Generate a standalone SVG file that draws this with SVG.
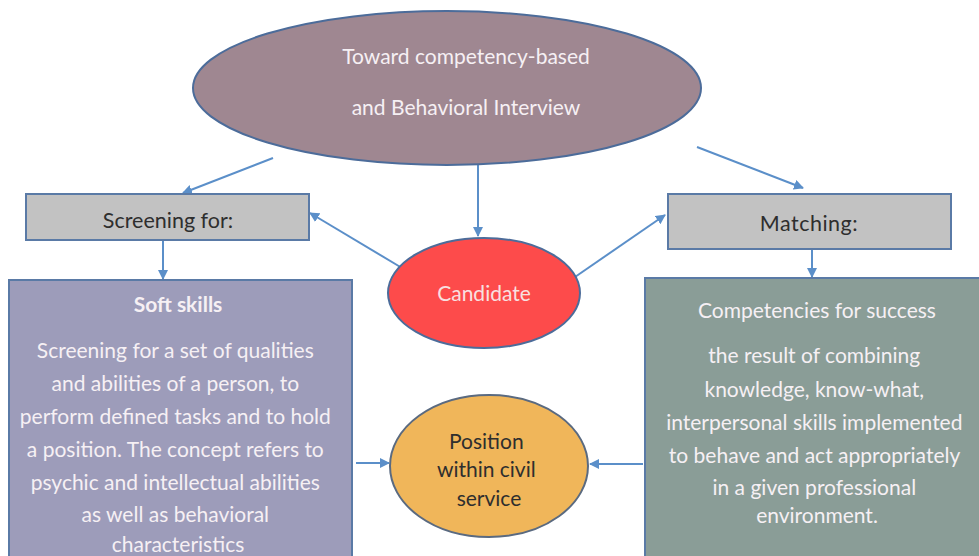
<svg xmlns="http://www.w3.org/2000/svg" width="979" height="556" viewBox="0 0 979 556">
<defs>
<marker id="ah" markerWidth="10" markerHeight="10" refX="9" refY="5" orient="auto" markerUnits="userSpaceOnUse">
<path d="M0,0 L10,5 L0,10 z" fill="#5b8fc9"/>
</marker>
<style>
.t{font-family:Lato,"Open Sans",sans-serif;text-anchor:middle}
.w{fill:#f6f0f4}
.d{fill:#2e2e2e}
.c{stroke:#5b8fc9;stroke-width:2;fill:none;marker-end:url(#ah)}
.box{stroke:#5a7aa6;stroke-width:2}
</style>
</defs>
<rect width="979" height="556" fill="#ffffff"/>
<g id="connectors">
<line class="c" x1="273" y1="158" x2="183" y2="193"/>
<line class="c" x1="697" y1="147" x2="803" y2="188"/>
<line class="c" x1="478" y1="165" x2="478" y2="236"/>
<line class="c" x1="402" y1="268" x2="310" y2="213"/>
<line class="c" x1="575" y1="277" x2="665" y2="215"/>
<line class="c" x1="163" y1="241" x2="163" y2="279"/>
<line class="c" x1="812" y1="250" x2="812" y2="277"/>
<line class="c" x1="356" y1="463" x2="389" y2="463"/>
<line class="c" x1="643" y1="464" x2="590" y2="464"/>
</g>
<g id="top">
<ellipse cx="447" cy="88" rx="254" ry="77" fill="#9f8791" stroke="#4c6c9a" stroke-width="2"/>
<text class="t w" x="466" y="64" font-size="21">Toward competency-based</text>
<text class="t w" x="466" y="115" font-size="21">and Behavioral Interview</text>
</g>
<g id="screening">
<rect class="box" x="26" y="194" width="283" height="46" fill="#c2c2c2"/>
<text class="t d" x="168" y="228" font-size="21.5">Screening for:</text>
</g>
<g id="matching">
<rect class="box" x="668" y="194" width="283" height="55" fill="#c2c2c2"/>
<text class="t d" x="809" y="231" font-size="21.5" letter-spacing="0.5">Matching:</text>
</g>
<g id="candidate">
<ellipse cx="484" cy="293" rx="96" ry="55" fill="#fd4b4b" stroke="#4c6c9a" stroke-width="2"/>
<text class="t" x="484" y="301" font-size="21" fill="#f8e0e0">Candidate</text>
</g>
<g id="soft">
<rect class="box" x="9" y="280" width="343" height="290" fill="#9d9cba"/>
<text class="t w" x="178" y="312" font-size="21" font-weight="bold">Soft skills</text>
<text class="t w" font-size="21">
<tspan x="178" y="358">Screening for a set of qualities</tspan>
<tspan x="178" y="391">and abilities of a person, to</tspan>
<tspan x="178" y="424">perform defined tasks and to hold</tspan>
<tspan x="178" y="457">a position. The concept refers to</tspan>
<tspan x="178" y="490">psychic and intellectual abilities</tspan>
<tspan x="178" y="522">as well as behavioral</tspan>
<tspan x="178" y="552">characteristics</tspan>
</text>
</g>
<g id="competencies">
<rect class="box" x="645" y="278" width="350" height="290" fill="#8a9d97"/>
<text class="t w" x="817" y="318" font-size="21">Competencies for success</text>
<text class="t w" font-size="21">
<tspan x="817" y="363">the result of combining</tspan>
<tspan x="817" y="397">knowledge, know-what,</tspan>
<tspan x="817" y="430">interpersonal skills implemented</tspan>
<tspan x="817" y="463">to behave and act appropriately</tspan>
<tspan x="817" y="495">in a given professional</tspan>
<tspan x="817" y="523">environment.</tspan>
</text>
</g>
<g id="position">
<ellipse cx="489" cy="466" rx="99" ry="71" fill="#f0b65a" stroke="#5a6a80" stroke-width="2"/>
<text class="t d" font-size="21">
<tspan x="489" y="449">Position</tspan>
<tspan x="489" y="477">within civil</tspan>
<tspan x="489" y="506">service</tspan>
</text>
</g>
</svg>
